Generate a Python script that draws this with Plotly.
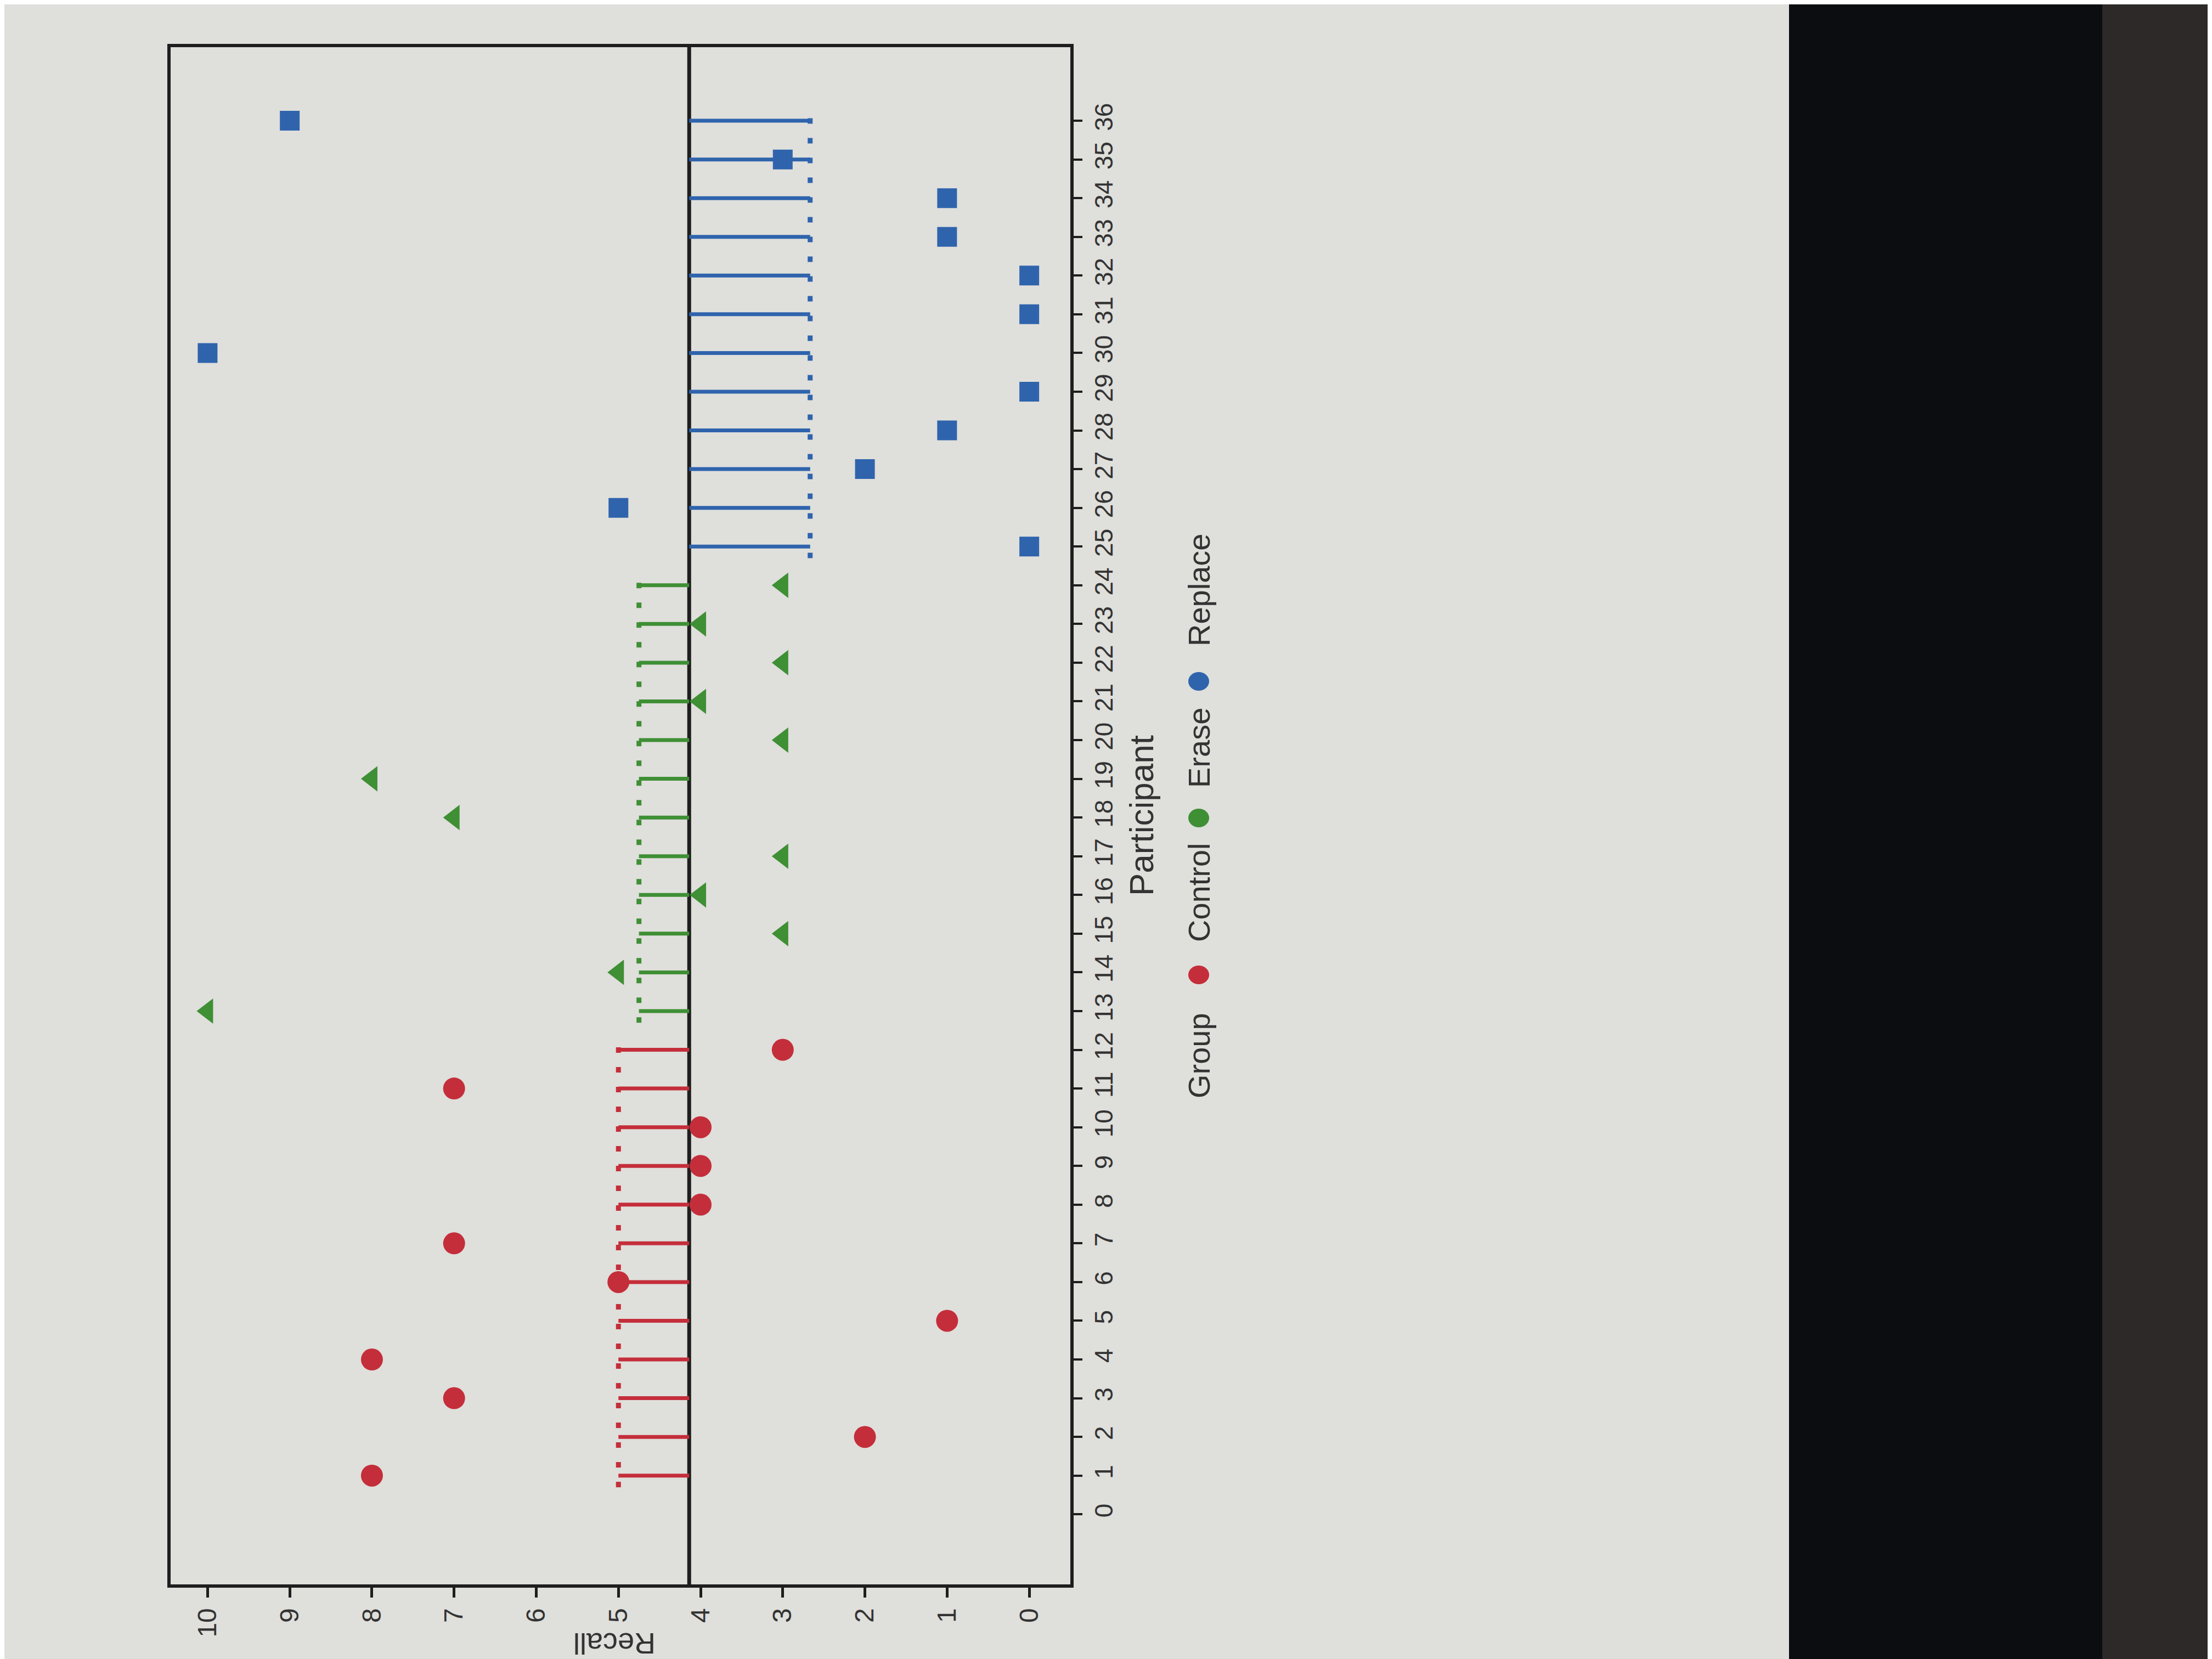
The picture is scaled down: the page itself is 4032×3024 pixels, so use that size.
import plotly.graph_objects as go
import numpy as np

# ---------------- data ----------------
control_participant = list(range(1, 13))
control_recall = [8, 2, 7, 8, 1, 5, 7, 4, 4, 4, 7, 3]
erase_participant = list(range(13, 25))
erase_recall = [10, 5, 3, 4, 3, 7, 8, 3, 4, 3, 4, 3]
replace_participant = list(range(25, 37))
replace_recall = [0, 5, 2, 1, 0, 10, 0, 0, 1, 1, 3, 9]

group_names = ["Control", "Erase", "Replace"]
recall_ticks = list(range(0, 11))
participant_ticks = list(range(0, 37))

# ---------------- styling ----------------
W, H = 4032, 3024
L, R, T, B = 303, 1943, 78, 2880
BG = "#dfdfdb"
AX = "#1e1e1e"
TXT = "#333333"
FONT = "Liberation Sans, Arial, sans-serif"
colors = {"Control": "#c42e3a", "Erase": "#3f8f35", "Replace": "#2f64ad"}
symbols = {"Control": "circle", "Erase": "triangle-left", "Replace": "square"}
msize = {"Control": 40, "Erase": 40, "Replace": 36}


def px(x):
    return (x - L) / (R - L)


def py(y):
    return (B - y) / (B - T)


groups = [
    ("Control", control_participant, control_recall),
    ("Erase", erase_participant, erase_recall),
    ("Replace", replace_participant, replace_recall),
]

all_recall = control_recall + erase_recall + replace_recall
overall_mean = float(np.mean(all_recall))

fig = go.Figure()

for name, parts, vals in groups:
    gmean = float(np.mean(vals))
    sx, sy = [], []
    for p in parts:
        sx += [overall_mean, gmean, None]
        sy += [p, p, None]
    fig.add_trace(go.Scatter(x=sx, y=sy, mode="lines",
                             line=dict(color=colors[name], width=7),
                             showlegend=False, hoverinfo="skip"))
    fig.add_trace(go.Scatter(x=[gmean, gmean], y=[parts[0] - 0.3, parts[-1] + 0.3],
                             mode="lines",
                             line=dict(color=colors[name], width=9, dash="10px,26px"),
                             showlegend=False, hoverinfo="skip"))

for name, parts, vals in groups:
    fig.add_trace(go.Scatter(x=vals, y=parts, mode="markers", name=name,
                             marker=dict(symbol=symbols[name], size=msize[name],
                                         color=colors[name], line=dict(width=0)),
                             showlegend=False))

# overall mean line
fig.add_shape(type="line", xref="x", yref="paper", x0=overall_mean, x1=overall_mean,
              y0=0, y1=1, line=dict(color=AX, width=7), layer="below")

# photo background: dark screen bezel on the right
fig.add_shape(type="rect", xref="paper", yref="paper", x0=px(3253), x1=px(3824),
              y0=py(3030), y1=py(-6), fillcolor="#0b0d11", line=dict(width=0))
fig.add_shape(type="rect", xref="paper", yref="paper", x0=px(3824), x1=px(4040),
              y0=py(3030), y1=py(-6), fillcolor="#2c2928", line=dict(width=0))

annotations = []
# axis titles
annotations.append(dict(text="Participant", xref="paper", yref="paper",
                        x=px(2072), y=py(1479), showarrow=False, textangle=-90,
                        font=dict(size=62, color=TXT, family=FONT),
                        xanchor="center", yanchor="middle"))
annotations.append(dict(text="Recall", xref="paper", yref="paper",
                        x=px(1112), y=py(2988), showarrow=False, textangle=180,
                        font=dict(size=54, color=TXT, family=FONT),
                        xanchor="center", yanchor="middle"))

# legend (rotated)
leg_x = px(2177)
for text, yc in [("Group", 1916), ("Control", 1619), ("Erase", 1355), ("Replace", 1068)]:
    annotations.append(dict(text=text, xref="paper", yref="paper", x=leg_x, y=py(yc),
                            showarrow=False, textangle=-90,
                            font=dict(size=56, color=TXT, family=FONT),
                            xanchor="center", yanchor="middle"))
for name, yc in [("Control", 1769), ("Erase", 1483), ("Replace", 1234)]:
    fig.add_shape(type="circle", xref="paper", yref="paper",
                  x0=px(2177 - 19), x1=px(2177 + 19), y0=py(yc + 17), y1=py(yc - 17),
                  fillcolor=colors[name], line=dict(width=0))

fig.update_layout(
    width=W, height=H,
    margin=dict(l=L, r=W - R, t=T, b=H - B, autoexpand=False),
    paper_bgcolor=BG, plot_bgcolor=BG,
    font=dict(family=FONT, color=TXT),
    annotations=annotations,
    showlegend=False,
    xaxis=dict(range=[10.45, -0.50], tickvals=recall_ticks,
               ticktext=[str(v) for v in recall_ticks], tickangle=-90,
               ticks="outside", ticklen=18, tickwidth=5, tickcolor=AX,
               tickfont=dict(size=48, color=TXT, family=FONT),
               showline=True, linecolor=AX, linewidth=6, mirror=True,
               showgrid=False, zeroline=False, automargin=False),
    yaxis=dict(range=[-1.81, 37.9], side="right", tickvals=participant_ticks,
               ticktext=[str(v) for v in participant_ticks], tickangle=-90,
               ticks="outside", ticklen=16, tickwidth=4, tickcolor=AX,
               tickfont=dict(size=46, color=TXT, family=FONT),
               showline=True, linecolor=AX, linewidth=6, mirror=True,
               showgrid=False, zeroline=False, automargin=False),
)

fig.write_html("out.html")
